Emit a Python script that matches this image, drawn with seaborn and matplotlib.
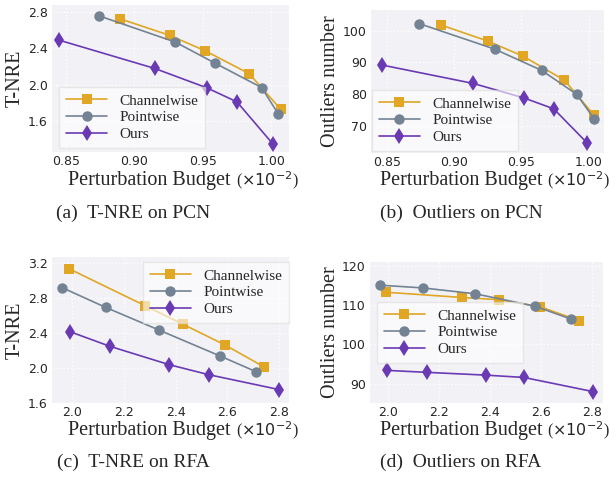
import matplotlib
matplotlib.use("Agg")
import matplotlib.pyplot as plt
import seaborn as sns
import pandas as pd

# ---- data (x in units of 1e-2) ----
series_names = ["Channelwise", "Pointwise", "Ours"]

a_ch_x = [0.890, 0.926, 0.952, 0.984, 1.007]
a_ch_y = [2.72, 2.54, 2.37, 2.12, 1.73]
a_pw_x = [0.874, 0.930, 0.959, 0.993, 1.005]
a_pw_y = [2.756, 2.467, 2.236, 1.969, 1.684]
a_our_x = [0.845, 0.915, 0.953, 0.975, 1.001]
a_our_y = [2.489, 2.178, 1.966, 1.812, 1.355]

b_ch_x = [0.890, 0.925, 0.951, 0.982, 1.004]
b_ch_y = [101.8, 96.7, 92.0, 84.4, 73.4]
b_pw_x = [0.874, 0.930, 0.965, 0.991, 1.004]
b_pw_y = [102.2, 94.2, 87.5, 80.0, 72.3]
b_our_x = [0.846, 0.914, 0.952, 0.974, 0.999]
b_our_y = [89.2, 83.4, 78.8, 75.4, 64.6]

c_ch_x = [1.987, 2.283, 2.428, 2.592, 2.742]
c_ch_y = [3.136, 2.71, 2.50, 2.26, 2.01]
c_pw_x = [1.963, 2.130, 2.338, 2.570, 2.711]
c_pw_y = [2.916, 2.692, 2.430, 2.138, 1.956]
c_our_x = [1.991, 2.148, 2.376, 2.528, 2.799]
c_our_y = [2.415, 2.245, 2.036, 1.922, 1.752]

d_ch_x = [1.991, 2.289, 2.434, 2.596, 2.748]
d_ch_y = [113.3, 111.97, 111.4, 109.6, 106.1]
d_pw_x = [1.967, 2.136, 2.342, 2.576, 2.716]
d_pw_y = [115.1, 114.4, 112.9, 109.75, 106.5]
d_our_x = [1.996, 2.152, 2.382, 2.533, 2.804]
d_our_y = [93.4, 92.9, 92.2, 91.6, 88.0]

x_ticks_pcn = [0.85, 0.90, 0.95, 1.00]
x_ticks_rfa = [2.0, 2.2, 2.4, 2.6, 2.8]
y_ticks_a = [1.6, 2.0, 2.4, 2.8]
y_ticks_b = [70, 80, 90, 100]
y_ticks_c = [1.6, 2.0, 2.4, 2.8, 3.2]
y_ticks_d = [90, 100, 110, 120]

captions = ["(a)  T-NRE on PCN", "(b)  Outliers on PCN",
            "(c)  T-NRE on RFA", "(d)  Outliers on RFA"]
ylabels = ["T-NRE", "Outliers number", "T-NRE", "Outliers number"]
xlabel_main = "Perturbation Budget"
xlabel_unit = r"($\times10^{-2}$)"

# ---- style ----
sns.set_theme(style="darkgrid")
plt.rcParams.update({
    "axes.facecolor": "#F2F2F6",
    "grid.color": "white",
    "grid.linestyle": ":",
    "grid.linewidth": 1.0,
    "font.family": ["DejaVu Sans"],
})
SERIF = ["Liberation Serif", "DejaVu Serif"]
colors = {"Channelwise": "#E0A624", "Pointwise": "#738394", "Ours": "#6A3AB4"}
markers = {"Channelwise": "s", "Pointwise": "o", "Ours": "d"}
msize = {"Channelwise": 7.5, "Pointwise": 7.5, "Ours": 8}

W, H = 616, 479
fig = plt.figure(figsize=(W / 100, H / 100), dpi=100)


def box(l, r, t, b):
    return [l / W, 1 - b / H, (r - l) / W, (b - t) / H]


panels = [
    dict(pos=box(52, 289, 5, 152), data=[(a_ch_x, a_ch_y), (a_pw_x, a_pw_y), (a_our_x, a_our_y)],
         xlim=(0.840, 1.013), ylim=(1.263, 2.873), xt=x_ticks_pcn, yt=y_ticks_a,
         xfmt="{:.2f}", yfmt="{:.1f}", leg=dict(loc="lower left", bbox_to_anchor=(0.03, 0.027)),
         ylab_x=-0.114, xsplit=236, xbase=185),
    dict(pos=box(371, 604, 10, 153), data=[(b_ch_x, b_ch_y), (b_pw_x, b_pw_y), (b_our_x, b_our_y)],
         xlim=(0.838, 1.0114), ylim=(61.5, 106.5), xt=x_ticks_pcn, yt=y_ticks_b,
         xfmt="{:.2f}", yfmt="{:.0f}", leg=dict(loc="lower left", bbox_to_anchor=(0.004, 0.014)),
         ylab_x=-0.133, xsplit=547, xbase=185),
    dict(pos=box(52, 289, 257, 403), data=[(c_ch_x, c_ch_y), (c_pw_x, c_pw_y), (c_our_x, c_our_y)],
         xlim=(1.923, 2.838), ylim=(1.598, 3.268), xt=x_ticks_rfa, yt=y_ticks_c,
         xfmt="{:.1f}", yfmt="{:.1f}", leg=dict(loc="upper right", bbox_to_anchor=(1.0, 0.966)),
         ylab_x=-0.114, xsplit=236, xbase=435),
    dict(pos=box(370, 603, 262, 403), data=[(d_ch_x, d_ch_y), (d_pw_x, d_pw_y), (d_our_x, d_our_y)],
         xlim=(1.928, 2.843), ylim=(85.1, 121.0), xt=x_ticks_rfa, yt=y_ticks_d,
         xfmt="{:.1f}", yfmt="{:.0f}", leg=dict(loc="lower left", bbox_to_anchor=(0.03, 0.284)),
         ylab_x=-0.129, xsplit=547, xbase=435),
]

for i, p in enumerate(panels):
    ax = fig.add_axes(p["pos"])
    for name, (xs, ys) in zip(series_names, p["data"]):
        df = pd.DataFrame({"x": xs, "y": ys})
        sns.lineplot(data=df, x="x", y="y", ax=ax, color=colors[name], marker=markers[name],
                     markersize=msize[name], markeredgewidth=0, linewidth=1.2, label=name,
                     sort=False)
    ax.set_xlim(*p["xlim"])
    ax.set_ylim(*p["ylim"])
    ax.set_xticks(p["xt"])
    ax.set_yticks(p["yt"])
    ax.set_xticklabels([p["xfmt"].format(v) for v in p["xt"]])
    ax.set_yticklabels([p["yfmt"].format(v) for v in p["yt"]])
    ax.tick_params(axis="x", labelsize=9, pad=2, length=0)
    ax.tick_params(axis="y", labelsize=9, pad=3, length=0)
    ax.set_xlabel("")
    ax.set_ylabel(ylabels[i], fontsize=14.5, family=SERIF)
    ax.yaxis.set_label_coords(p["ylab_x"], 0.5)
    for s in ax.spines.values():
        s.set_visible(False)
    leg = ax.legend(prop={"family": SERIF, "size": 11}, frameon=True, fancybox=False,
                    handlelength=2.7, borderpad=0.45, labelspacing=0.2, handletextpad=0.8,
                    borderaxespad=0, **p["leg"])
    leg.get_frame().set_facecolor("white")
    leg.get_frame().set_alpha(0.6)
    leg.get_frame().set_edgecolor("#DDDDDD")
    # x label: serif words + smaller mathtext unit
    fig.text(p["xsplit"] / W, 1 - p["xbase"] / H, xlabel_main + " ", ha="right", va="baseline",
             fontsize=14.5, family=SERIF)
    fig.text(p["xsplit"] / W, 1 - p["xbase"] / H, xlabel_unit, ha="left", va="baseline",
             fontsize=11.5, family=SERIF)

cap_pos = [(133, 213), (461, 213), (133, 462), (461, 462)]
for (cx, cy), txt in zip(cap_pos, captions):
    fig.text(cx / W, 1 - cy / H, txt, ha="center", va="center", fontsize=14, family=SERIF)

fig.savefig("out.png", dpi=100)
